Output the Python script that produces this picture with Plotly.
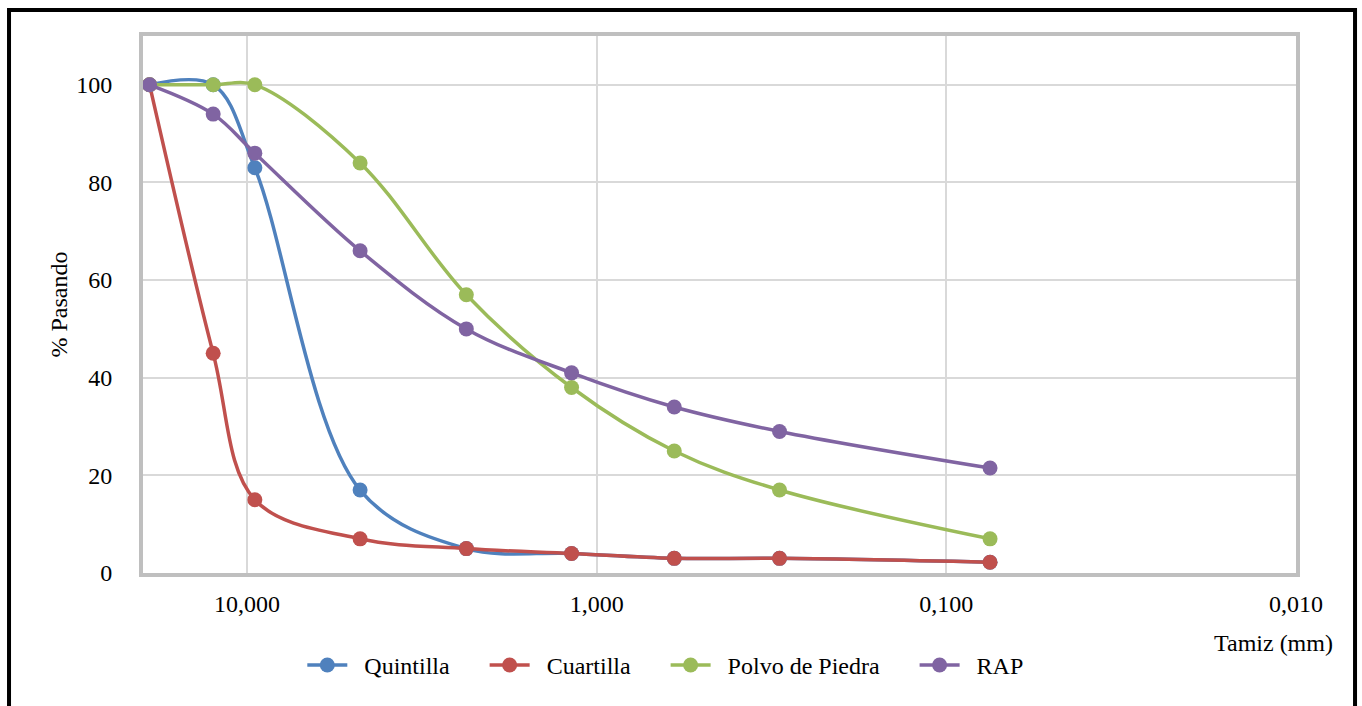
import plotly.graph_objects as go

# Sieve openings (mm) and percent passing for each material
tamiz_mm = [19.0, 12.5, 9.5, 4.75, 2.36, 1.18, 0.6, 0.3, 0.075]
quintilla = [100, 100, 83, 17, 5, 4, 3, 3, 2.2]
cuartilla = [100, 45, 15, 7, 5, 4, 3, 3, 2.2]
polvo_piedra = [100, 100, 100, 84, 57, 38, 25, 17, 7]
rap = [100, 94, 86, 66, 50, 41, 34, 29, 21.5]

series_names = ["Quintilla", "Cuartilla", "Polvo de Piedra", "RAP"]
series_values = [quintilla, cuartilla, polvo_piedra, rap]
series_colors = ["#4F81BD", "#C0504D", "#9BBB59", "#8064A2"]

x_tick_vals = [10, 1, 0.1, 0.01]
x_tick_text = ["10,000", "1,000", "0,100", "0,010"]
y_tick_vals = [0, 20, 40, 60, 80, 100]

FONT = "Liberation Serif"
FS = 24
NBSP = "\u00a0"

fig = go.Figure()
for i, (name, vals, color) in enumerate(zip(series_names, series_values, series_colors)):
    # pad legend labels with non-breaking spaces for wider entry spacing
    label = NBSP * 2 + name + (NBSP * 5 if i < len(series_names) - 1 else "")
    fig.add_trace(go.Scatter(
        x=tamiz_mm, y=vals, name=label, mode="lines+markers",
        line=dict(color=color, width=3.5, shape="spline", smoothing=1.0),
        marker=dict(color=color, size=15),
    ))

fig.update_layout(
    width=1362, height=706,
    margin=dict(l=143, r=66, t=36, b=133),
    paper_bgcolor="white", plot_bgcolor="white",
    font=dict(family=FONT, size=FS, color="black"),
    showlegend=True,
    legend=dict(orientation="h", x=0.453, xanchor="center", y=-0.172, yanchor="middle",
                font=dict(family=FONT, size=FS), itemwidth=40,
                bgcolor="rgba(0,0,0,0)"),
    xaxis=dict(
        type="log", range=[1.2976, -2.0],
        tickvals=x_tick_vals, ticktext=x_tick_text,
        showgrid=True, gridcolor="#D9D9D9", gridwidth=2,
        showline=True, linecolor="#BFBFBF", linewidth=4, mirror=True,
        ticks="", ticklabelstandoff=6, zeroline=False,
    ),
    yaxis=dict(
        range=[0, 110], tickvals=y_tick_vals,
        showgrid=True, gridcolor="#D9D9D9", gridwidth=2,
        showline=True, linecolor="#BFBFBF", linewidth=4, mirror=True,
        ticks="", ticklabelstandoff=22, zeroline=False,
        title=dict(text="% Pasando", font=dict(family=FONT, size=FS), standoff=3),
    ),
    annotations=[dict(
        text="Tamiz (mm)", xref="paper", yref="paper",
        x=1.034, y=-0.102, xanchor="right", yanchor="top",
        showarrow=False, font=dict(family=FONT, size=FS),
    )],
    shapes=[dict(
        type="rect", xref="paper", yref="paper",
        x0=-0.1162, x1=1.0512, y0=-0.3, y1=1.0484,
        line=dict(color="black", width=4), layer="above",
    )],
)

fig.write_html("out.html")
